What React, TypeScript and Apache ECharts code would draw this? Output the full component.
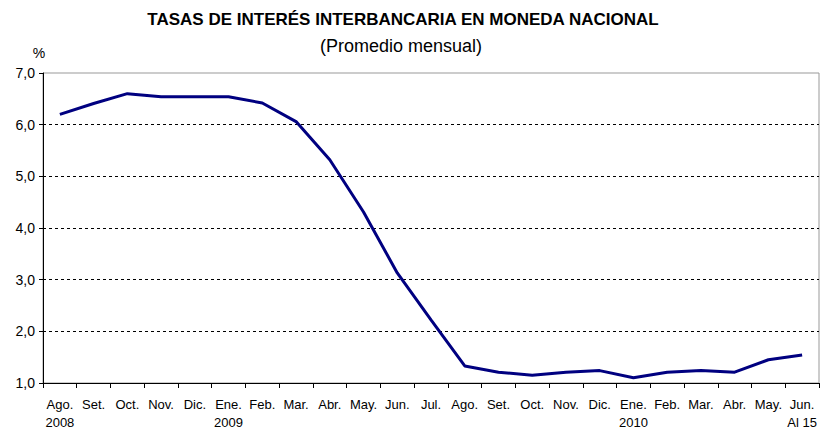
import React, { useEffect, useRef } from "react";
import * as echarts from "echarts";

const months = [
  "Ago.\n2008", "Set.", "Oct.", "Nov.", "Dic.", "Ene.\n2009", "Feb.", "Mar.", "Abr.", "May.", "Jun.", "Jul.",
  "Ago.", "Set.", "Oct.", "Nov.", "Dic.", "Ene.\n2010", "Feb.", "Mar.", "Abr.", "May.", "Jun.\nAl 15",
];
const rates = [
  6.2, 6.41, 6.6, 6.54, 6.54, 6.54, 6.42, 6.06, 5.32, 4.31, 3.13, 2.22,
  1.33, 1.21, 1.15, 1.21, 1.24, 1.1, 1.21, 1.24, 1.21, 1.45, 1.54,
];
const yTicks = { min: 1, max: 7, interval: 1 };
const titleText = "TASAS DE INTERÉS INTERBANCARIA EN MONEDA NACIONAL";
const subtitleText = "(Promedio mensual)";
const unitText = "%";

const FONT = "'Liberation Sans', Arial, sans-serif";

export default function App() {
  const ref = useRef<HTMLDivElement>(null);
  useEffect(() => {
    if (!ref.current) return;
    const chart = echarts.init(ref.current, null, { renderer: "svg" });
    chart.setOption({
      animation: false,
      backgroundColor: "#fff",
      textStyle: { fontFamily: FONT },
      graphic: [
        {
          type: "text",
          x: 403,
          y: 19,
          style: {
            text: titleText,
            fontFamily: FONT,
            fontSize: 17,
            fontWeight: "bold",
            fill: "#000",
            align: "center",
            verticalAlign: "middle",
          },
        },
        {
          type: "text",
          x: 401,
          y: 46,
          style: {
            text: subtitleText,
            fontFamily: FONT,
            fontSize: 18,
            fill: "#000",
            align: "center",
            verticalAlign: "middle",
          },
        },
        {
          type: "text",
          x: 39,
          y: 53,
          style: {
            text: unitText,
            fontFamily: FONT,
            fontSize: 14,
            fill: "#000",
            align: "center",
            verticalAlign: "middle",
          },
        },
      ],
      grid: {
        left: 43,
        right: 6,
        top: 73,
        bottom: 47,
        show: true,
        borderColor: "#999",
        borderWidth: 1,
        outerBoundsMode: "none",
        containLabel: false,
      },
      xAxis: {
        type: "category",
        data: months,
        boundaryGap: true,
        axisLine: { show: true, lineStyle: { color: "#000", width: 1 } },
        axisTick: { show: true, length: 5, lineStyle: { color: "#000" } },
        axisLabel: {
          interval: 0,
          color: "#000",
          fontFamily: FONT,
          fontSize: 13,
          lineHeight: 18,
          margin: 12,
        },
        splitLine: { show: false },
      },
      yAxis: {
        type: "value",
        min: yTicks.min,
        max: yTicks.max,
        interval: yTicks.interval,
        axisLine: { show: true, lineStyle: { color: "#000", width: 1 } },
        axisTick: { show: true, length: 4, lineStyle: { color: "#000" } },
        axisLabel: {
          color: "#000",
          fontFamily: FONT,
          fontSize: 14,
          margin: 8,
          formatter: (v: number) => v.toFixed(1).replace(".", ","),
        },
        splitLine: {
          show: true,
          showMinLine: false,
          showMaxLine: false,
          lineStyle: { color: "#000", type: [3, 3], width: 1 },
        },
      },
      series: [
        {
          type: "line",
          data: rates,
          symbol: "none",
          lineStyle: { color: "#000080", width: 3 },
          itemStyle: { color: "#000080" },
        },
      ],
    });
    return () => chart.dispose();
  }, []);
  return <div ref={ref} style={{ width: 825, height: 430, position: "absolute", left: 0, top: 0 }} />;
}
